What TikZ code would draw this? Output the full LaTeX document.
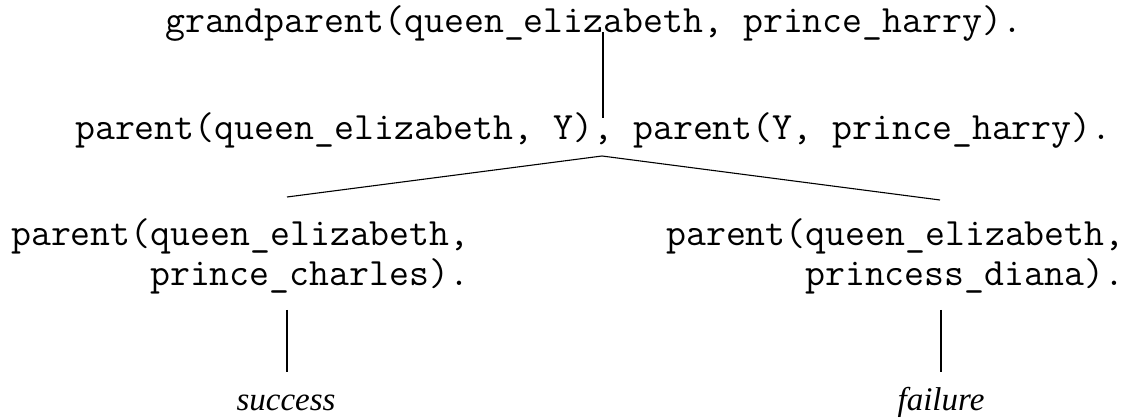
\documentclass[tikz,border=0pt]{standalone}
\usepackage{fontspec}
\newfontfamily\resfont{Liberation Serif}
\begin{document}
\begin{tikzpicture}[x=1pt,y=-1pt,
  code/.style={font=\ttfamily\fontsize{38.7}{46}\selectfont, inner sep=0pt, anchor=base west},
  res/.style={font=\resfont\itshape\fontsize{33}{40}\selectfont, inner sep=0pt, anchor=base},
  edge/.style={draw=black, line width=1.1pt}]
\useasboundingbox (0,0) rectangle (1134,419);
\node[code] (g) at (165,33) {grandparent(queen\_elizabeth, prince\_harry).};
\node[code] (p) at (75,140) {parent(queen\_elizabeth, Y), parent(Y, prince\_harry).};
\node[code] (l1) at (11,246) {parent(queen\_elizabeth,};
\node[code] (l2) at (150,286) {prince\_charles).};
\node[code] (r1) at (666,246) {parent(queen\_elizabeth,};
\node[code] (r2) at (805,286) {princess\_diana).};
\node[res] (s) at (286,410) {success};
\node[res] (f) at (941,410) {failure};
\coordinate (gb) at (603,32);
\coordinate (pt) at (603,118);
\coordinate (pb) at (602,156);
\coordinate (lt) at (287,197);
\coordinate (rt) at (940,200);
\coordinate (lb) at (287,310);
\coordinate (lbe) at (287,372);
\coordinate (rb) at (941,310);
\coordinate (rbe) at (941,372);
\draw[edge] (gb) -- (pt);
\draw[edge] (pb) -- (lt);
\draw[edge] (pb) -- (rt);
\draw[edge] (lb) -- (lbe);
\draw[edge] (rb) -- (rbe);
\end{tikzpicture}
\end{document}
